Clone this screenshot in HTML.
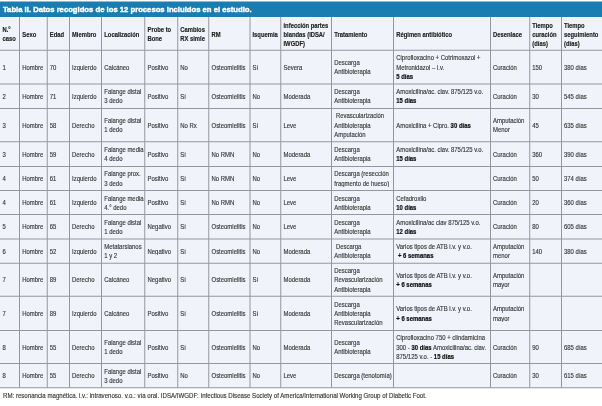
<!DOCTYPE html><html><head><meta charset="utf-8"><style>
html,body{margin:0;padding:0;background:#fff;width:602px;height:406px;overflow:hidden}
#w{position:absolute;left:0;top:0;width:2408px;height:1624px;transform:scale(0.25);transform-origin:0 0;filter:blur(0px);font-family:"Liberation Sans",sans-serif}
.c{-webkit-text-stroke:0.60px #383838;position:absolute;display:flex;align-items:center;box-sizing:border-box;padding-left:10.40px;font-size:26.00px;line-height:36.80px;color:#383838;white-space:nowrap;letter-spacing:0;padding-top:8.40px}
.c>div{filter:blur(0px);transform:scaleX(0.915);transform-origin:0 50%}
.h>div{transform:scaleX(0.885)}
.c b{color:#111;-webkit-text-stroke:0.80px #111}
.h{padding-top:9.60px;letter-spacing:0;-webkit-text-stroke-color:#222;font-weight:bold;font-size:26.40px;line-height:36.00px;color:#222}
.vl{position:absolute;background:#95979e}
.hl{position:absolute;background:#95979e}
</style></head><body><div id="w">

<div style="position:absolute;left:0;top:5.60px;width:2408.00px;height:62.00px;background:#1a7db2"></div>
<div style="position:absolute;left:12.00px;top:6.80px;height:61.60px;line-height:61.60px;font-weight:bold;font-size:32.00px;letter-spacing:0;-webkit-text-stroke:1.60px #fff;color:#fff;white-space:nowrap;filter:blur(0px);transform:scaleX(0.96);transform-origin:0 50%">Tabla II. Datos recogidos de los 12 procesos incluidos en el estudio.</div>
<div style="position:absolute;left:0;top:68.00px;width:2408.00px;height:1483.20px;background:#f0f3fa"></div>
<div style="position:absolute;left:0;top:67.60px;width:2408.00px;height:4.40px;background:#fbfcfe"></div>
<div class="c h" style="left:0.00px;top:68.00px;width:78.40px;height:132.80px;padding-top:4.80px"><div>N.°<br>caso</div></div>
<div class="c h" style="left:78.40px;top:68.00px;width:110.40px;height:132.80px"><div>Sexo</div></div>
<div class="c h" style="left:188.80px;top:68.00px;width:89.20px;height:132.80px"><div>Edad</div></div>
<div class="c h" style="left:278.00px;top:68.00px;width:128.40px;height:132.80px"><div>Miembro</div></div>
<div class="c h" style="left:406.40px;top:68.00px;width:172.80px;height:132.80px"><div>Localización</div></div>
<div class="c h" style="left:579.20px;top:68.00px;width:131.60px;height:132.80px;padding-top:4.80px"><div>Probe to<br>Bone</div></div>
<div class="c h" style="left:710.80px;top:68.00px;width:124.40px;height:132.80px;padding-top:4.80px"><div>Cambios<br>RX simle</div></div>
<div class="c h" style="left:835.20px;top:68.00px;width:164.40px;height:132.80px"><div>RM</div></div>
<div class="c h" style="left:999.60px;top:68.00px;width:123.60px;height:132.80px"><div>Isquemia</div></div>
<div class="c h" style="left:1123.20px;top:68.00px;width:203.20px;height:132.80px"><div>infección partes<br>blandas (IDSA/<br>IWGDF)</div></div>
<div class="c h" style="left:1326.40px;top:68.00px;width:248.00px;height:132.80px"><div>Tratamiento</div></div>
<div class="c h" style="left:1574.40px;top:68.00px;width:387.60px;height:132.80px"><div>Régimen antibiótico</div></div>
<div class="c h" style="left:1962.00px;top:68.00px;width:156.80px;height:132.80px"><div>Desenlace</div></div>
<div class="c h" style="left:2118.80px;top:68.00px;width:127.20px;height:132.80px"><div>Tiempo<br>curación<br>(días)</div></div>
<div class="c h" style="left:2246.00px;top:68.00px;width:162.00px;height:132.80px"><div>Tiempo<br>seguimiento<br>(días)</div></div>
<div class="c" style="left:0.00px;top:200.80px;width:78.40px;height:135.20px;padding-top:2.40px"><div>1</div></div>
<div class="c" style="left:78.40px;top:200.80px;width:110.40px;height:135.20px;padding-top:2.40px"><div>Hombre</div></div>
<div class="c" style="left:188.80px;top:200.80px;width:89.20px;height:135.20px;padding-top:2.40px"><div>70</div></div>
<div class="c" style="left:278.00px;top:200.80px;width:128.40px;height:135.20px;padding-top:2.40px"><div>Izquierdo</div></div>
<div class="c" style="left:406.40px;top:200.80px;width:172.80px;height:135.20px;padding-top:2.40px"><div>Calcáneo</div></div>
<div class="c" style="left:579.20px;top:200.80px;width:131.60px;height:135.20px;padding-top:2.40px"><div>Positivo</div></div>
<div class="c" style="left:710.80px;top:200.80px;width:124.40px;height:135.20px;padding-top:2.40px"><div>No</div></div>
<div class="c" style="left:835.20px;top:200.80px;width:164.40px;height:135.20px;padding-top:2.40px"><div>Osteomielitis</div></div>
<div class="c" style="left:999.60px;top:200.80px;width:123.60px;height:135.20px;padding-top:2.40px"><div>Sí</div></div>
<div class="c" style="left:1123.20px;top:200.80px;width:203.20px;height:135.20px;padding-top:2.40px"><div>Severa</div></div>
<div class="c" style="left:1326.40px;top:200.80px;width:248.00px;height:135.20px;padding-top:2.40px"><div>Descarga<br>Antibioterapia</div></div>
<div class="c" style="left:1574.40px;top:200.80px;width:387.60px;height:135.20px;padding-top:2.40px"><div>Ciprofloxacino + Cotrimoxazol +<br>Metronidazol – i.v.<br><b>5 días</b></div></div>
<div class="c" style="left:1962.00px;top:200.80px;width:156.80px;height:135.20px;padding-top:2.40px"><div>Curación</div></div>
<div class="c" style="left:2118.80px;top:200.80px;width:127.20px;height:135.20px;padding-top:2.40px"><div>150</div></div>
<div class="c" style="left:2246.00px;top:200.80px;width:162.00px;height:135.20px;padding-top:2.40px"><div>380 días</div></div>
<div class="c" style="left:0.00px;top:336.00px;width:78.40px;height:97.60px;padding-top:2.40px"><div>2</div></div>
<div class="c" style="left:78.40px;top:336.00px;width:110.40px;height:97.60px;padding-top:2.40px"><div>Hombre</div></div>
<div class="c" style="left:188.80px;top:336.00px;width:89.20px;height:97.60px;padding-top:2.40px"><div>71</div></div>
<div class="c" style="left:278.00px;top:336.00px;width:128.40px;height:97.60px;padding-top:2.40px"><div>Izquierdo</div></div>
<div class="c" style="left:406.40px;top:336.00px;width:172.80px;height:97.60px;padding-top:2.40px"><div>Falange distal<br>3 dedo</div></div>
<div class="c" style="left:579.20px;top:336.00px;width:131.60px;height:97.60px;padding-top:2.40px"><div>Positivo</div></div>
<div class="c" style="left:710.80px;top:336.00px;width:124.40px;height:97.60px;padding-top:2.40px"><div>Sí</div></div>
<div class="c" style="left:835.20px;top:336.00px;width:164.40px;height:97.60px;padding-top:2.40px"><div>Osteomielitis</div></div>
<div class="c" style="left:999.60px;top:336.00px;width:123.60px;height:97.60px;padding-top:2.40px"><div>No</div></div>
<div class="c" style="left:1123.20px;top:336.00px;width:203.20px;height:97.60px;padding-top:2.40px"><div>Moderada</div></div>
<div class="c" style="left:1326.40px;top:336.00px;width:248.00px;height:97.60px;padding-top:2.40px"><div>Descarga<br>Antibioterapia</div></div>
<div class="c" style="left:1574.40px;top:336.00px;width:387.60px;height:97.60px;padding-top:2.40px"><div>Amoxicilina/ac. clav. 875/125 v.o.<br><b>15 días</b></div></div>
<div class="c" style="left:1962.00px;top:336.00px;width:156.80px;height:97.60px;padding-top:2.40px"><div>Curación</div></div>
<div class="c" style="left:2118.80px;top:336.00px;width:127.20px;height:97.60px;padding-top:2.40px"><div>30</div></div>
<div class="c" style="left:2246.00px;top:336.00px;width:162.00px;height:97.60px;padding-top:2.40px"><div>545 días</div></div>
<div class="c" style="left:0.00px;top:433.60px;width:78.40px;height:133.60px;padding-top:2.40px"><div>3</div></div>
<div class="c" style="left:78.40px;top:433.60px;width:110.40px;height:133.60px;padding-top:2.40px"><div>Hombre</div></div>
<div class="c" style="left:188.80px;top:433.60px;width:89.20px;height:133.60px;padding-top:2.40px"><div>58</div></div>
<div class="c" style="left:278.00px;top:433.60px;width:128.40px;height:133.60px;padding-top:2.40px"><div>Derecho</div></div>
<div class="c" style="left:406.40px;top:433.60px;width:172.80px;height:133.60px;padding-top:2.40px"><div>Falange distal<br>1 dedo</div></div>
<div class="c" style="left:579.20px;top:433.60px;width:131.60px;height:133.60px;padding-top:2.40px"><div>Positivo</div></div>
<div class="c" style="left:710.80px;top:433.60px;width:124.40px;height:133.60px;padding-top:2.40px"><div>No Rx</div></div>
<div class="c" style="left:835.20px;top:433.60px;width:164.40px;height:133.60px;padding-top:2.40px"><div>Osteomielitis</div></div>
<div class="c" style="left:999.60px;top:433.60px;width:123.60px;height:133.60px;padding-top:2.40px"><div>Sí</div></div>
<div class="c" style="left:1123.20px;top:433.60px;width:203.20px;height:133.60px;padding-top:2.40px"><div>Leve</div></div>
<div class="c" style="left:1326.40px;top:433.60px;width:248.00px;height:133.60px;padding-top:2.40px"><div>&nbsp;Revascularización<br>Antibioterapia<br>Amputación</div></div>
<div class="c" style="left:1574.40px;top:433.60px;width:387.60px;height:133.60px;padding-top:2.40px"><div>Amoxicilina + Cipro. <b>30 días</b></div></div>
<div class="c" style="left:1962.00px;top:433.60px;width:156.80px;height:133.60px;padding-top:2.40px"><div>Amputación<br>Menor</div></div>
<div class="c" style="left:2118.80px;top:433.60px;width:127.20px;height:133.60px;padding-top:2.40px"><div>45</div></div>
<div class="c" style="left:2246.00px;top:433.60px;width:162.00px;height:133.60px;padding-top:2.40px"><div>635 días</div></div>
<div class="c" style="left:0.00px;top:567.20px;width:78.40px;height:98.40px;padding-top:2.40px"><div>3</div></div>
<div class="c" style="left:78.40px;top:567.20px;width:110.40px;height:98.40px;padding-top:2.40px"><div>Hombre</div></div>
<div class="c" style="left:188.80px;top:567.20px;width:89.20px;height:98.40px;padding-top:2.40px"><div>59</div></div>
<div class="c" style="left:278.00px;top:567.20px;width:128.40px;height:98.40px;padding-top:2.40px"><div>Derecho</div></div>
<div class="c" style="left:406.40px;top:567.20px;width:172.80px;height:98.40px;padding-top:2.40px"><div>Falange media<br>4 dedo</div></div>
<div class="c" style="left:579.20px;top:567.20px;width:131.60px;height:98.40px;padding-top:2.40px"><div>Positivo</div></div>
<div class="c" style="left:710.80px;top:567.20px;width:124.40px;height:98.40px;padding-top:2.40px"><div>Sí</div></div>
<div class="c" style="left:835.20px;top:567.20px;width:164.40px;height:98.40px;padding-top:2.40px"><div>No RMN</div></div>
<div class="c" style="left:999.60px;top:567.20px;width:123.60px;height:98.40px;padding-top:2.40px"><div>No</div></div>
<div class="c" style="left:1123.20px;top:567.20px;width:203.20px;height:98.40px;padding-top:2.40px"><div>Moderada</div></div>
<div class="c" style="left:1326.40px;top:567.20px;width:248.00px;height:98.40px;padding-top:2.40px"><div>Descarga<br>Antibioterapia</div></div>
<div class="c" style="left:1574.40px;top:567.20px;width:387.60px;height:98.40px;padding-top:2.40px"><div>Amoxicilina/ac. clav. 875/125 v.o.<br><b>15 días</b></div></div>
<div class="c" style="left:1962.00px;top:567.20px;width:156.80px;height:98.40px;padding-top:2.40px"><div>Curación</div></div>
<div class="c" style="left:2118.80px;top:567.20px;width:127.20px;height:98.40px;padding-top:2.40px"><div>360</div></div>
<div class="c" style="left:2246.00px;top:567.20px;width:162.00px;height:98.40px;padding-top:2.40px"><div>390 días</div></div>
<div class="c" style="left:0.00px;top:665.60px;width:78.40px;height:96.40px;padding-top:2.40px"><div>4</div></div>
<div class="c" style="left:78.40px;top:665.60px;width:110.40px;height:96.40px;padding-top:2.40px"><div>Hombre</div></div>
<div class="c" style="left:188.80px;top:665.60px;width:89.20px;height:96.40px;padding-top:2.40px"><div>61</div></div>
<div class="c" style="left:278.00px;top:665.60px;width:128.40px;height:96.40px;padding-top:2.40px"><div>Izquierdo</div></div>
<div class="c" style="left:406.40px;top:665.60px;width:172.80px;height:96.40px;padding-top:2.40px"><div>Falange prox.<br>3 dedo</div></div>
<div class="c" style="left:579.20px;top:665.60px;width:131.60px;height:96.40px;padding-top:2.40px"><div>Positivo</div></div>
<div class="c" style="left:710.80px;top:665.60px;width:124.40px;height:96.40px;padding-top:2.40px"><div>Sí</div></div>
<div class="c" style="left:835.20px;top:665.60px;width:164.40px;height:96.40px;padding-top:2.40px"><div>No RMN</div></div>
<div class="c" style="left:999.60px;top:665.60px;width:123.60px;height:96.40px;padding-top:2.40px"><div>No</div></div>
<div class="c" style="left:1123.20px;top:665.60px;width:203.20px;height:96.40px;padding-top:2.40px"><div>Leve</div></div>
<div class="c" style="left:1326.40px;top:665.60px;width:248.00px;height:96.40px;padding-top:2.40px"><div>Descarga (resección<br>fragmento de hueso)</div></div>
<div class="c" style="left:1962.00px;top:665.60px;width:156.80px;height:96.40px;padding-top:2.40px"><div>Curación</div></div>
<div class="c" style="left:2118.80px;top:665.60px;width:127.20px;height:96.40px;padding-top:2.40px"><div>50</div></div>
<div class="c" style="left:2246.00px;top:665.60px;width:162.00px;height:96.40px;padding-top:2.40px"><div>374 días</div></div>
<div class="c" style="left:0.00px;top:762.00px;width:78.40px;height:96.40px;padding-top:2.40px"><div>4</div></div>
<div class="c" style="left:78.40px;top:762.00px;width:110.40px;height:96.40px;padding-top:2.40px"><div>Hombre</div></div>
<div class="c" style="left:188.80px;top:762.00px;width:89.20px;height:96.40px;padding-top:2.40px"><div>61</div></div>
<div class="c" style="left:278.00px;top:762.00px;width:128.40px;height:96.40px;padding-top:2.40px"><div>Izquierdo</div></div>
<div class="c" style="left:406.40px;top:762.00px;width:172.80px;height:96.40px;padding-top:2.40px"><div>Falange media<br>4.° dedo</div></div>
<div class="c" style="left:579.20px;top:762.00px;width:131.60px;height:96.40px;padding-top:2.40px"><div>Positivo</div></div>
<div class="c" style="left:710.80px;top:762.00px;width:124.40px;height:96.40px;padding-top:2.40px"><div>Sí</div></div>
<div class="c" style="left:835.20px;top:762.00px;width:164.40px;height:96.40px;padding-top:2.40px"><div>No RMN</div></div>
<div class="c" style="left:999.60px;top:762.00px;width:123.60px;height:96.40px;padding-top:2.40px"><div>No</div></div>
<div class="c" style="left:1123.20px;top:762.00px;width:203.20px;height:96.40px;padding-top:2.40px"><div>Leve</div></div>
<div class="c" style="left:1326.40px;top:762.00px;width:248.00px;height:96.40px;padding-top:2.40px"><div>Descarga<br>Antibioterapia</div></div>
<div class="c" style="left:1574.40px;top:762.00px;width:387.60px;height:96.40px;padding-top:2.40px"><div>Cefadroxilo<br><b>10 días</b></div></div>
<div class="c" style="left:1962.00px;top:762.00px;width:156.80px;height:96.40px;padding-top:2.40px"><div>Curación</div></div>
<div class="c" style="left:2118.80px;top:762.00px;width:127.20px;height:96.40px;padding-top:2.40px"><div>20</div></div>
<div class="c" style="left:2246.00px;top:762.00px;width:162.00px;height:96.40px;padding-top:2.40px"><div>360 días</div></div>
<div class="c" style="left:0.00px;top:858.40px;width:78.40px;height:97.60px;padding-top:2.40px"><div>5</div></div>
<div class="c" style="left:78.40px;top:858.40px;width:110.40px;height:97.60px;padding-top:2.40px"><div>Hombre</div></div>
<div class="c" style="left:188.80px;top:858.40px;width:89.20px;height:97.60px;padding-top:2.40px"><div>65</div></div>
<div class="c" style="left:278.00px;top:858.40px;width:128.40px;height:97.60px;padding-top:2.40px"><div>Derecho</div></div>
<div class="c" style="left:406.40px;top:858.40px;width:172.80px;height:97.60px;padding-top:2.40px"><div>Falange distal<br>1 dedo</div></div>
<div class="c" style="left:579.20px;top:858.40px;width:131.60px;height:97.60px;padding-top:2.40px"><div>Negativo</div></div>
<div class="c" style="left:710.80px;top:858.40px;width:124.40px;height:97.60px;padding-top:2.40px"><div>Sí</div></div>
<div class="c" style="left:835.20px;top:858.40px;width:164.40px;height:97.60px;padding-top:2.40px"><div>Osteomielitis</div></div>
<div class="c" style="left:999.60px;top:858.40px;width:123.60px;height:97.60px;padding-top:2.40px"><div>No</div></div>
<div class="c" style="left:1123.20px;top:858.40px;width:203.20px;height:97.60px;padding-top:2.40px"><div>Leve</div></div>
<div class="c" style="left:1326.40px;top:858.40px;width:248.00px;height:97.60px;padding-top:2.40px"><div>Descarga<br>Antibioterapia</div></div>
<div class="c" style="left:1574.40px;top:858.40px;width:387.60px;height:97.60px;padding-top:2.40px"><div>Amoxicilina/ac clav 875/125 v.o.<br><b>12 días</b></div></div>
<div class="c" style="left:1962.00px;top:858.40px;width:156.80px;height:97.60px;padding-top:2.40px"><div>Curación</div></div>
<div class="c" style="left:2118.80px;top:858.40px;width:127.20px;height:97.60px;padding-top:2.40px"><div>80</div></div>
<div class="c" style="left:2246.00px;top:858.40px;width:162.00px;height:97.60px;padding-top:2.40px"><div>605 días</div></div>
<div class="c" style="left:0.00px;top:956.00px;width:78.40px;height:96.80px;padding-top:2.40px"><div>6</div></div>
<div class="c" style="left:78.40px;top:956.00px;width:110.40px;height:96.80px;padding-top:2.40px"><div>Hombre</div></div>
<div class="c" style="left:188.80px;top:956.00px;width:89.20px;height:96.80px;padding-top:2.40px"><div>52</div></div>
<div class="c" style="left:278.00px;top:956.00px;width:128.40px;height:96.80px;padding-top:2.40px"><div>Izquierdo</div></div>
<div class="c" style="left:406.40px;top:956.00px;width:172.80px;height:96.80px;padding-top:2.40px"><div>Metatarsianos<br>1 y 2</div></div>
<div class="c" style="left:579.20px;top:956.00px;width:131.60px;height:96.80px;padding-top:2.40px"><div>Negativo</div></div>
<div class="c" style="left:710.80px;top:956.00px;width:124.40px;height:96.80px;padding-top:2.40px"><div>Sí</div></div>
<div class="c" style="left:835.20px;top:956.00px;width:164.40px;height:96.80px;padding-top:2.40px"><div>Osteomielitis</div></div>
<div class="c" style="left:999.60px;top:956.00px;width:123.60px;height:96.80px;padding-top:2.40px"><div>No</div></div>
<div class="c" style="left:1123.20px;top:956.00px;width:203.20px;height:96.80px;padding-top:2.40px"><div>Moderada</div></div>
<div class="c" style="left:1326.40px;top:956.00px;width:248.00px;height:96.80px;padding-top:2.40px"><div>&nbsp;Descarga<br>Antibioterapia</div></div>
<div class="c" style="left:1574.40px;top:956.00px;width:387.60px;height:96.80px;padding-top:2.40px"><div>Varios tipos de ATB i.v. y v.o.<br><b>&nbsp;+ 6 semanas</b></div></div>
<div class="c" style="left:1962.00px;top:956.00px;width:156.80px;height:96.80px;padding-top:2.40px"><div>Amputación<br>menor</div></div>
<div class="c" style="left:2118.80px;top:956.00px;width:127.20px;height:96.80px;padding-top:2.40px"><div>140</div></div>
<div class="c" style="left:2246.00px;top:956.00px;width:162.00px;height:96.80px;padding-top:2.40px"><div>380 días</div></div>
<div class="c" style="left:0.00px;top:1052.80px;width:78.40px;height:132.40px;padding-top:2.40px"><div>7</div></div>
<div class="c" style="left:78.40px;top:1052.80px;width:110.40px;height:132.40px;padding-top:2.40px"><div>Hombre</div></div>
<div class="c" style="left:188.80px;top:1052.80px;width:89.20px;height:132.40px;padding-top:2.40px"><div>89</div></div>
<div class="c" style="left:278.00px;top:1052.80px;width:128.40px;height:132.40px;padding-top:2.40px"><div>Derecho</div></div>
<div class="c" style="left:406.40px;top:1052.80px;width:172.80px;height:132.40px;padding-top:2.40px"><div>Calcáneo</div></div>
<div class="c" style="left:579.20px;top:1052.80px;width:131.60px;height:132.40px;padding-top:2.40px"><div>Negativo</div></div>
<div class="c" style="left:710.80px;top:1052.80px;width:124.40px;height:132.40px;padding-top:2.40px"><div>Sí</div></div>
<div class="c" style="left:835.20px;top:1052.80px;width:164.40px;height:132.40px;padding-top:2.40px"><div>Osteomielitis</div></div>
<div class="c" style="left:999.60px;top:1052.80px;width:123.60px;height:132.40px;padding-top:2.40px"><div>Sí</div></div>
<div class="c" style="left:1123.20px;top:1052.80px;width:203.20px;height:132.40px;padding-top:2.40px"><div>Moderada</div></div>
<div class="c" style="left:1326.40px;top:1052.80px;width:248.00px;height:132.40px;padding-top:2.40px"><div>Descarga<br>Revascularización<br>Antibioterapia</div></div>
<div class="c" style="left:1574.40px;top:1052.80px;width:387.60px;height:132.40px;padding-top:2.40px"><div>Varios tipos de ATB i.v. y v.o.<br><b>+ 6 semanas</b></div></div>
<div class="c" style="left:1962.00px;top:1052.80px;width:156.80px;height:132.40px;padding-top:2.40px"><div>Amputación<br>mayor</div></div>
<div class="c" style="left:0.00px;top:1185.20px;width:78.40px;height:136.40px;padding-top:2.40px"><div>7</div></div>
<div class="c" style="left:78.40px;top:1185.20px;width:110.40px;height:136.40px;padding-top:2.40px"><div>Hombre</div></div>
<div class="c" style="left:188.80px;top:1185.20px;width:89.20px;height:136.40px;padding-top:2.40px"><div>89</div></div>
<div class="c" style="left:278.00px;top:1185.20px;width:128.40px;height:136.40px;padding-top:2.40px"><div>Izquierdo</div></div>
<div class="c" style="left:406.40px;top:1185.20px;width:172.80px;height:136.40px;padding-top:2.40px"><div>Calcáneo</div></div>
<div class="c" style="left:579.20px;top:1185.20px;width:131.60px;height:136.40px;padding-top:2.40px"><div>Positivo</div></div>
<div class="c" style="left:710.80px;top:1185.20px;width:124.40px;height:136.40px;padding-top:2.40px"><div>Sí</div></div>
<div class="c" style="left:835.20px;top:1185.20px;width:164.40px;height:136.40px;padding-top:2.40px"><div>Osteomielitis</div></div>
<div class="c" style="left:999.60px;top:1185.20px;width:123.60px;height:136.40px;padding-top:2.40px"><div>Sí</div></div>
<div class="c" style="left:1123.20px;top:1185.20px;width:203.20px;height:136.40px;padding-top:2.40px"><div>Moderada</div></div>
<div class="c" style="left:1326.40px;top:1185.20px;width:248.00px;height:136.40px;padding-top:2.40px"><div>Descarga<br>Antibioterapia<br>Revascularización</div></div>
<div class="c" style="left:1574.40px;top:1185.20px;width:387.60px;height:136.40px;padding-top:2.40px"><div>Varios tipos de ATB i.v. y v.o.<br><b>+ 6 semanas</b></div></div>
<div class="c" style="left:1962.00px;top:1185.20px;width:156.80px;height:136.40px;padding-top:2.40px"><div>Amputación<br>mayor</div></div>
<div class="c" style="left:0.00px;top:1321.60px;width:78.40px;height:132.00px;padding-top:3.60px"><div>8</div></div>
<div class="c" style="left:78.40px;top:1321.60px;width:110.40px;height:132.00px;padding-top:3.60px"><div>Hombre</div></div>
<div class="c" style="left:188.80px;top:1321.60px;width:89.20px;height:132.00px;padding-top:3.60px"><div>55</div></div>
<div class="c" style="left:278.00px;top:1321.60px;width:128.40px;height:132.00px;padding-top:3.60px"><div>Derecho</div></div>
<div class="c" style="left:406.40px;top:1321.60px;width:172.80px;height:132.00px;padding-top:3.60px"><div>Falange distal<br>1 dedo</div></div>
<div class="c" style="left:579.20px;top:1321.60px;width:131.60px;height:132.00px;padding-top:3.60px"><div>Positivo</div></div>
<div class="c" style="left:710.80px;top:1321.60px;width:124.40px;height:132.00px;padding-top:3.60px"><div>Sí</div></div>
<div class="c" style="left:835.20px;top:1321.60px;width:164.40px;height:132.00px;padding-top:3.60px"><div>Osteomielitis</div></div>
<div class="c" style="left:999.60px;top:1321.60px;width:123.60px;height:132.00px;padding-top:3.60px"><div>No</div></div>
<div class="c" style="left:1123.20px;top:1321.60px;width:203.20px;height:132.00px;padding-top:3.60px"><div>Moderada</div></div>
<div class="c" style="left:1326.40px;top:1321.60px;width:248.00px;height:132.00px;padding-top:3.60px"><div>Descarga<br>Antibioterapia</div></div>
<div class="c" style="left:1574.40px;top:1321.60px;width:387.60px;height:132.00px;padding-top:3.60px"><div>Ciprofloxacino 750 + clindamicina<br>300 - <b>30 días</b> Amoxicilina/ac. clav.<br>875/125 v.o. - <b>15 días</b></div></div>
<div class="c" style="left:1962.00px;top:1321.60px;width:156.80px;height:132.00px;padding-top:3.60px"><div>Curación</div></div>
<div class="c" style="left:2118.80px;top:1321.60px;width:127.20px;height:132.00px;padding-top:3.60px"><div>90</div></div>
<div class="c" style="left:2246.00px;top:1321.60px;width:162.00px;height:132.00px;padding-top:3.60px"><div>685 días</div></div>
<div class="c" style="left:0.00px;top:1453.60px;width:78.40px;height:97.60px;padding-top:2.40px"><div>8</div></div>
<div class="c" style="left:78.40px;top:1453.60px;width:110.40px;height:97.60px;padding-top:2.40px"><div>Hombre</div></div>
<div class="c" style="left:188.80px;top:1453.60px;width:89.20px;height:97.60px;padding-top:2.40px"><div>55</div></div>
<div class="c" style="left:278.00px;top:1453.60px;width:128.40px;height:97.60px;padding-top:2.40px"><div>Derecho</div></div>
<div class="c" style="left:406.40px;top:1453.60px;width:172.80px;height:97.60px;padding-top:2.40px"><div>Falange distal<br>3 dedo</div></div>
<div class="c" style="left:579.20px;top:1453.60px;width:131.60px;height:97.60px;padding-top:2.40px"><div>Positivo</div></div>
<div class="c" style="left:710.80px;top:1453.60px;width:124.40px;height:97.60px;padding-top:2.40px"><div>No</div></div>
<div class="c" style="left:835.20px;top:1453.60px;width:164.40px;height:97.60px;padding-top:2.40px"><div>Osteomielitis</div></div>
<div class="c" style="left:999.60px;top:1453.60px;width:123.60px;height:97.60px;padding-top:2.40px"><div>No</div></div>
<div class="c" style="left:1123.20px;top:1453.60px;width:203.20px;height:97.60px;padding-top:2.40px"><div>Leve</div></div>
<div class="c" style="left:1326.40px;top:1453.60px;width:248.00px;height:97.60px;padding-top:2.40px"><div>Descarga (tenotomía)</div></div>
<div class="c" style="left:1962.00px;top:1453.60px;width:156.80px;height:97.60px;padding-top:2.40px"><div>Curación</div></div>
<div class="c" style="left:2118.80px;top:1453.60px;width:127.20px;height:97.60px;padding-top:2.40px"><div>30</div></div>
<div class="c" style="left:2246.00px;top:1453.60px;width:162.00px;height:97.60px;padding-top:2.40px"><div>615 días</div></div>
<div class="vl" style="left:76.40px;top:68.00px;width:4.00px;height:1483.20px"></div>
<div class="vl" style="left:186.80px;top:68.00px;width:4.00px;height:1483.20px"></div>
<div class="vl" style="left:276.00px;top:68.00px;width:4.00px;height:1483.20px"></div>
<div class="vl" style="left:404.40px;top:68.00px;width:4.00px;height:1483.20px"></div>
<div class="vl" style="left:577.20px;top:68.00px;width:4.00px;height:1483.20px"></div>
<div class="vl" style="left:708.80px;top:68.00px;width:4.00px;height:1483.20px"></div>
<div class="vl" style="left:833.20px;top:68.00px;width:4.00px;height:1483.20px"></div>
<div class="vl" style="left:997.60px;top:68.00px;width:4.00px;height:1483.20px"></div>
<div class="vl" style="left:1121.20px;top:68.00px;width:4.00px;height:1483.20px"></div>
<div class="vl" style="left:1324.40px;top:68.00px;width:4.00px;height:1483.20px"></div>
<div class="vl" style="left:1572.40px;top:68.00px;width:4.00px;height:1483.20px"></div>
<div class="vl" style="left:1960.00px;top:68.00px;width:4.00px;height:1483.20px"></div>
<div class="vl" style="left:2116.80px;top:68.00px;width:4.00px;height:1483.20px"></div>
<div class="vl" style="left:2244.00px;top:68.00px;width:4.00px;height:1483.20px"></div>
<div class="hl" style="left:0;top:198.80px;width:2408.00px;height:4.00px"></div>
<div class="hl" style="left:0;top:334.00px;width:2408.00px;height:4.00px"></div>
<div class="hl" style="left:0;top:431.60px;width:2408.00px;height:4.00px"></div>
<div class="hl" style="left:0;top:565.20px;width:2408.00px;height:4.00px"></div>
<div class="hl" style="left:0;top:663.60px;width:2408.00px;height:4.00px"></div>
<div class="hl" style="left:0;top:760.00px;width:2408.00px;height:4.00px"></div>
<div class="hl" style="left:0;top:856.40px;width:2408.00px;height:4.00px"></div>
<div class="hl" style="left:0;top:954.00px;width:2408.00px;height:4.00px"></div>
<div class="hl" style="left:0;top:1050.80px;width:2408.00px;height:4.00px"></div>
<div class="hl" style="left:0;top:1183.20px;width:2408.00px;height:4.00px"></div>
<div class="hl" style="left:0;top:1319.60px;width:2408.00px;height:4.00px"></div>
<div class="hl" style="left:0;top:1451.60px;width:2408.00px;height:4.00px"></div>
<div class="hl" style="left:0;top:1549.20px;width:2408.00px;height:4.00px"></div>
<div style="position:absolute;left:12.00px;top:1562.40px;font-size:26.40px;-webkit-text-stroke:0.60px #383838;line-height:40.00px;color:#383838;white-space:nowrap;filter:blur(0px);transform:scaleX(0.925);transform-origin:0 50%">RM: resonancia magnética. i.v.: intravenoso. v.o.: vía oral. IDSA/IWGDF: Infectious Disease Society of America/International Working Group of Diabetic Foot.</div>
</div></body></html>
